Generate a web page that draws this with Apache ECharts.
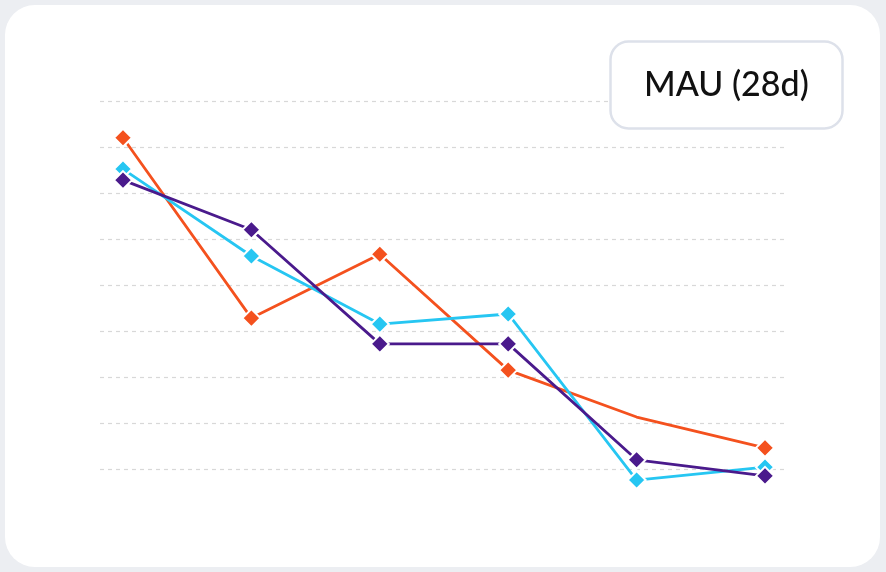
<!DOCTYPE html>
<html><head><meta charset="utf-8">
<script src="https://cdn.jsdelivr.net/npm/echarts@6/dist/echarts.min.js"></script>
<style>html,body{margin:0;padding:0;background:#eceef2;}
#card{position:absolute;left:5px;top:5px;width:875px;height:562px;background:#fff;border-radius:30px;}
#c{position:absolute;left:0;top:0;width:886px;height:572px;}</style>
</head><body><div id="card"></div><div id="c"></div>
<script>
const categories = ['P1','P2','P3','P4','P5','P6'];
const orange = [7.2, 3.28, 4.67, 2.15, 1.13, 0.46];
const cyan = [6.52, 4.63, 3.15, 3.37, -0.24, 0.04];
const purple = [6.28, 5.2, 2.72, 2.72, 0.2, -0.15];
const hiddenMarkers = {orange:[4]};
const colors = {orange:'#F4511E', cyan:'#26C6F2', purple:'#4A1A8C'};

function mk(name, vals){
  return {
    type:'line', name, clip:false, z: name==='purple'?4:(name==='cyan'?3:2),
    data: vals.map((v,i)=>({value:[i,v], symbol:(hiddenMarkers[name]||[]).includes(i)?'none':'diamond'})),
    symbolSize:18, lineStyle:{width:2.8,color:colors[name]},
    itemStyle:{color:colors[name],borderColor:'#fff',borderWidth:2}
  };
}
const chart = echarts.init(document.getElementById('c'));
chart.setOption({
  animation:false,
  title:{text:'MAU (28d)',left:610,top:41,padding:[27,34,27,34],backgroundColor:'#fff',
    borderColor:'#dde1ea',borderWidth:2.5,borderRadius:18,
    textStyle:{fontFamily:'Lato',fontWeight:500,fontSize:34,color:'#111'}},
  grid:{left:100,right:98,top:101,bottom:103},
  xAxis:{type:'value',min:-0.179,max:categories.length-1+0.179,show:false},
  yAxis:{type:'value',min:0,max:8,interval:1,axisLabel:{show:false},axisLine:{show:false},axisTick:{show:false},
    splitLine:{lineStyle:{type:[4,4],color:'#d8d8d8',width:1.2}}},
  series:[mk('orange',orange),mk('cyan',cyan),mk('purple',purple)]
});
</script></body></html>
